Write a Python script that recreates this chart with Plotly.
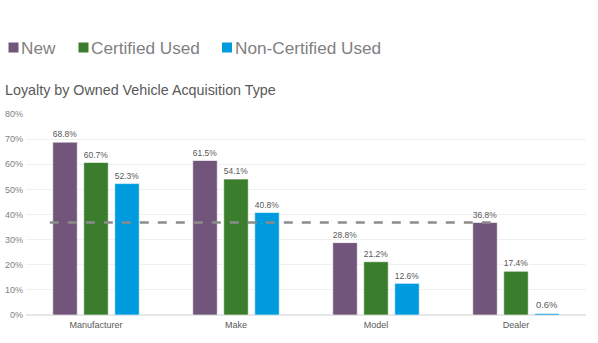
import plotly.graph_objects as go

categories = ["Manufacturer", "Make", "Model", "Dealer"]
new_vals = [68.8, 61.5, 28.8, 36.8]
certified_vals = [60.7, 54.1, 21.2, 17.4]
noncertified_vals = [52.3, 40.8, 12.6, 0.6]
benchmark = 36.8
tick_vals = [0, 10, 20, 30, 40, 50, 60, 70, 80]
tick_text = ["0%", "10%", "20%", "30%", "40%", "50%", "60%", "70%", "80%"]

series = [
    ("New", new_vals, "#71557A"),
    ("Certified Used", certified_vals, "#3A7D2C"),
    ("Non-Certified Used", noncertified_vals, "#009ADE"),
]

W, H = 598, 343
ML, MR, MT, MB = 26, 12, 114, 28
PW, PH = W - ML - MR, H - MT - MB


def px_x(px):
    return (px - ML) / PW


def px_y(py):
    return (H - MB - py) / PH


fig = go.Figure()
for name, vals, color in series:
    fig.add_trace(go.Bar(
        x=categories, y=vals, name=name,
        marker=dict(color=color, line=dict(color="rgba(255,255,255,0.6)", width=1)),
        text=[f"{v:.1f}%" for v in vals], textposition="outside",
        textfont=dict(size=9.5, color="#595959", family="Liberation Sans, Arial"),
        cliponaxis=False, showlegend=False,
    ))

fig.add_shape(type="line", xref="x", yref="y", x0=-0.33, x1=2.84,
              y0=benchmark, y1=benchmark,
              line=dict(color="#8c8c8c", width=2.5, dash="dash"), layer="above")

# custom legend (square + text, tight spacing like the original)
legend_pos = [(8.5, 20), (78.5, 90), (222, 234)]
for (name, vals, color), (sx, tx) in zip(series, legend_pos):
    fig.add_shape(type="rect", xref="paper", yref="paper",
                  x0=px_x(sx), x1=px_x(sx + 10), y0=px_y(52.5), y1=px_y(42.5),
                  fillcolor=color, line=dict(width=0), layer="above")
    fig.add_annotation(text=name, xref="paper", yref="paper",
                       x=px_x(tx), y=px_y(48), xanchor="left", yanchor="middle",
                       showarrow=False, borderpad=0,
                       font=dict(size=17.2, color="#7f7f7f", family="Liberation Sans, Arial"))

fig.update_layout(
    width=W, height=H,
    margin=dict(l=ML, r=MR, t=MT, b=MB),
    paper_bgcolor="white", plot_bgcolor="white",
    barmode="group", bargap=0.336, bargroupgap=0.21,
    font=dict(family="Liberation Sans, Arial", color="#595959"),
    showlegend=False,
    title=dict(text="Loyalty by Owned Vehicle Acquisition Type", x=5 / W, xanchor="left",
               y=1 - 90 / H, yanchor="middle", yref="container",
               font=dict(size=14.3, color="#595959")),
)
fig.update_yaxes(range=[0, 80], tickvals=tick_vals, ticktext=tick_text,
                 showgrid=True, gridcolor="#f0f0f0", gridwidth=1,
                 zeroline=True, zerolinecolor="#e6e6e6", automargin=False,
                 tickfont=dict(size=9, color="#7f7f7f"), ticks="",
                 ticklabelstandoff=2)
fig.update_xaxes(tickfont=dict(size=9, color="#595959"), showline=False, ticks="",
                 automargin=False, ticklabelstandoff=3)

fig.write_html("out.html")
